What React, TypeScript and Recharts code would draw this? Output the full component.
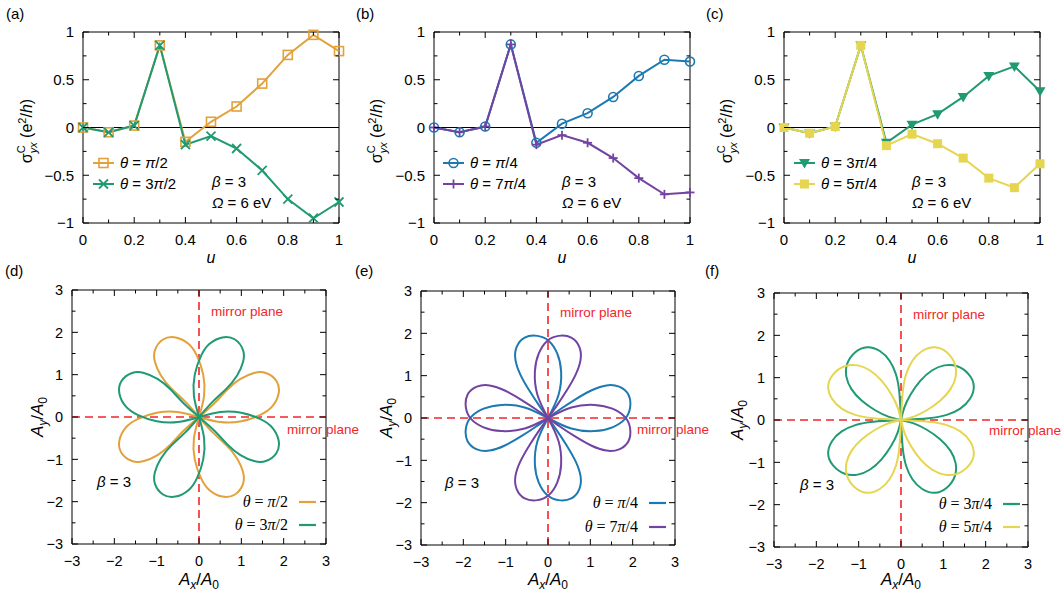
import React from 'react';
import { LineChart, Line, XAxis, YAxis, ReferenceLine, ReferenceArea, ScatterChart, Scatter } from 'recharts';

const SANS = '"Liberation Sans", Arial, Helvetica, sans-serif';
const SERIF = '"Liberation Serif", "Times New Roman", serif';

const ORANGE = '#e2a13a';
const GREEN = '#1f9a73';
const BLUE = '#1c79b2';
const PURPLE = '#7343a2';
const YELLOW = '#e6d54f';
const RED = '#f2262a';

// ---- (a)-(c): sigma_yx^C (e^2/h) against u ----
const uValues = [0, 0.1, 0.2, 0.3, 0.4, 0.5, 0.6, 0.7, 0.8, 0.9, 1];
const sigmaPi2 = [0, -0.05, 0.02, 0.86, -0.15, 0.06, 0.22, 0.46, 0.76, 0.97, 0.8];
const sigma3Pi2 = [0, -0.05, 0.02, 0.86, -0.18, -0.09, -0.22, -0.45, -0.75, -0.95, -0.78];
const sigmaPi4 = [0, -0.05, 0.01, 0.87, -0.16, 0.04, 0.15, 0.32, 0.54, 0.71, 0.69];
const sigma7Pi4 = [0, -0.05, 0.01, 0.87, -0.18, -0.08, -0.16, -0.32, -0.53, -0.7, -0.68];
const sigma3Pi4 = [0, -0.06, 0.01, 0.86, -0.16, 0.03, 0.14, 0.32, 0.54, 0.64, 0.38];
const sigma5Pi4 = [0, -0.06, 0.01, 0.86, -0.19, -0.07, -0.17, -0.32, -0.53, -0.63, -0.38];

const uTicks = [0, 0.1, 0.2, 0.3, 0.4, 0.5, 0.6, 0.7, 0.8, 0.9, 1];
const sigmaTicks = [-1, -0.75, -0.5, -0.25, 0, 0.25, 0.5, 0.75, 1];
const aTicks = [-3, -2.5, -2, -1.5, -1, -0.5, 0, 0.5, 1, 1.5, 2, 2.5, 3];

// ---- (d)-(f): A_y/A_0 against A_x/A_0, one outline per lobe ----
const lobesPi2 = [
  [[0, 0], [-0.33, 0.37], [-0.65, 0.67], [-0.9, 0.98], [-1.04, 1.3], [-1.04, 1.58], [-0.85, 1.83], [-0.55, 1.88], [-0.25, 1.73], [-0.05, 1.45], [0.1, 1.0], [0.12, 0.5], [0, 0]],
  [[0, 0], [-0.37, -0.33], [-0.67, -0.65], [-0.98, -0.9], [-1.3, -1.04], [-1.58, -1.04], [-1.83, -0.85], [-1.88, -0.55], [-1.73, -0.25], [-1.45, -0.05], [-1.0, 0.1], [-0.5, 0.12], [0, 0]],
  [[0, 0], [0.33, -0.37], [0.65, -0.67], [0.9, -0.98], [1.04, -1.3], [1.04, -1.58], [0.85, -1.83], [0.55, -1.88], [0.25, -1.73], [0.05, -1.45], [-0.1, -1.0], [-0.12, -0.5], [0, 0]],
  [[0, 0], [0.37, 0.33], [0.67, 0.65], [0.98, 0.9], [1.3, 1.04], [1.58, 1.04], [1.83, 0.85], [1.88, 0.55], [1.73, 0.25], [1.45, 0.05], [1.0, -0.1], [0.5, -0.12], [0, 0]],
];
const lobes3Pi2 = [
  [[0, 0], [0.33, 0.37], [0.65, 0.67], [0.9, 0.98], [1.04, 1.3], [1.04, 1.58], [0.85, 1.83], [0.55, 1.88], [0.25, 1.73], [0.05, 1.45], [-0.1, 1.0], [-0.12, 0.5], [0, 0]],
  [[0, 0], [0.37, -0.33], [0.67, -0.65], [0.98, -0.9], [1.3, -1.04], [1.58, -1.04], [1.83, -0.85], [1.88, -0.55], [1.73, -0.25], [1.45, -0.05], [1.0, 0.1], [0.5, 0.12], [0, 0]],
  [[0, 0], [-0.33, -0.37], [-0.65, -0.67], [-0.9, -0.98], [-1.04, -1.3], [-1.04, -1.58], [-0.85, -1.83], [-0.55, -1.88], [-0.25, -1.73], [-0.05, -1.45], [0.1, -1.0], [0.12, -0.5], [0, 0]],
  [[0, 0], [-0.37, 0.33], [-0.67, 0.65], [-0.98, 0.9], [-1.3, 1.04], [-1.58, 1.04], [-1.83, 0.85], [-1.88, 0.55], [-1.73, 0.25], [-1.45, 0.05], [-1.0, -0.1], [-0.5, -0.12], [0, 0]],
];
const lobesPi4 = [
  [[0, 0], [-0.2, 0.28], [-0.43, 0.63], [-0.65, 1.02], [-0.77, 1.38], [-0.74, 1.68], [-0.55, 1.9], [-0.25, 1.94], [0.02, 1.82], [0.22, 1.52], [0.31, 1.1], [0.25, 0.55], [0, 0]],
  [[0, 0], [-0.28, -0.2], [-0.63, -0.43], [-1.02, -0.65], [-1.38, -0.77], [-1.68, -0.74], [-1.9, -0.55], [-1.94, -0.25], [-1.82, 0.02], [-1.52, 0.22], [-1.1, 0.31], [-0.55, 0.25], [0, 0]],
  [[0, 0], [0.2, -0.28], [0.43, -0.63], [0.65, -1.02], [0.77, -1.38], [0.74, -1.68], [0.55, -1.9], [0.25, -1.94], [-0.02, -1.82], [-0.22, -1.52], [-0.31, -1.1], [-0.25, -0.55], [0, 0]],
  [[0, 0], [0.28, 0.2], [0.63, 0.43], [1.02, 0.65], [1.38, 0.77], [1.68, 0.74], [1.9, 0.55], [1.94, 0.25], [1.82, -0.02], [1.52, -0.22], [1.1, -0.31], [0.55, -0.25], [0, 0]],
];
const lobes7Pi4 = [
  [[0, 0], [0.2, 0.28], [0.43, 0.63], [0.65, 1.02], [0.77, 1.38], [0.74, 1.68], [0.55, 1.9], [0.25, 1.94], [-0.02, 1.82], [-0.22, 1.52], [-0.31, 1.1], [-0.25, 0.55], [0, 0]],
  [[0, 0], [0.28, -0.2], [0.63, -0.43], [1.02, -0.65], [1.38, -0.77], [1.68, -0.74], [1.9, -0.55], [1.94, -0.25], [1.82, 0.02], [1.52, 0.22], [1.1, 0.31], [0.55, 0.25], [0, 0]],
  [[0, 0], [-0.2, -0.28], [-0.43, -0.63], [-0.65, -1.02], [-0.77, -1.38], [-0.74, -1.68], [-0.55, -1.9], [-0.25, -1.94], [0.02, -1.82], [0.22, -1.52], [0.31, -1.1], [0.25, -0.55], [0, 0]],
  [[0, 0], [-0.28, 0.2], [-0.63, 0.43], [-1.02, 0.65], [-1.38, 0.77], [-1.68, 0.74], [-1.9, 0.55], [-1.94, 0.25], [-1.82, -0.02], [-1.52, -0.22], [-1.1, -0.31], [-0.55, -0.25], [0, 0]],
];
const lobes3Pi4 = [
  [[0, 0], [-0.3, 0.08], [-0.61, 0.23], [-0.93, 0.46], [-1.17, 0.73], [-1.29, 1.02], [-1.27, 1.33], [-1.08, 1.6], [-0.8, 1.72], [-0.5, 1.63], [-0.27, 1.4], [-0.12, 1.08], [-0.04, 0.65], [0, 0]],
  [[0, 0], [-0.08, -0.3], [-0.23, -0.61], [-0.46, -0.93], [-0.73, -1.17], [-1.02, -1.29], [-1.33, -1.27], [-1.6, -1.08], [-1.72, -0.8], [-1.63, -0.5], [-1.4, -0.27], [-1.08, -0.12], [-0.65, -0.04], [0, 0]],
  [[0, 0], [0.3, -0.08], [0.61, -0.23], [0.93, -0.46], [1.17, -0.73], [1.29, -1.02], [1.27, -1.33], [1.08, -1.6], [0.8, -1.72], [0.5, -1.63], [0.27, -1.4], [0.12, -1.08], [0.04, -0.65], [0, 0]],
  [[0, 0], [0.08, 0.3], [0.23, 0.61], [0.46, 0.93], [0.73, 1.17], [1.02, 1.29], [1.33, 1.27], [1.6, 1.08], [1.72, 0.8], [1.63, 0.5], [1.4, 0.27], [1.08, 0.12], [0.65, 0.04], [0, 0]],
];
const lobes5Pi4 = [
  [[0, 0], [0.3, 0.08], [0.61, 0.23], [0.93, 0.46], [1.17, 0.73], [1.29, 1.02], [1.27, 1.33], [1.08, 1.6], [0.8, 1.72], [0.5, 1.63], [0.27, 1.4], [0.12, 1.08], [0.04, 0.65], [0, 0]],
  [[0, 0], [0.08, -0.3], [0.23, -0.61], [0.46, -0.93], [0.73, -1.17], [1.02, -1.29], [1.33, -1.27], [1.6, -1.08], [1.72, -0.8], [1.63, -0.5], [1.4, -0.27], [1.08, -0.12], [0.65, -0.04], [0, 0]],
  [[0, 0], [-0.3, -0.08], [-0.61, -0.23], [-0.93, -0.46], [-1.17, -0.73], [-1.29, -1.02], [-1.27, -1.33], [-1.08, -1.6], [-0.8, -1.72], [-0.5, -1.63], [-0.27, -1.4], [-0.12, -1.08], [-0.04, -0.65], [0, 0]],
  [[0, 0], [-0.08, 0.3], [-0.23, 0.61], [-0.46, 0.93], [-0.73, 1.17], [-1.02, 1.29], [-1.33, 1.27], [-1.6, 1.08], [-1.72, 0.8], [-1.63, 0.5], [-1.4, 0.27], [-1.08, 0.12], [-0.65, 0.04], [0, 0]],
];

type MarkerKind = 'openSquare' | 'cross' | 'openCircle' | 'plus' | 'downTriangle' | 'filledSquare';

const fmt = (v: number) => (v < 0 ? '\u2212' + String(-v) : String(v));
const isMajorU = (v: number) => Math.round(v * 10) % 2 === 0;
const isMajorSigma = (v: number) => Math.round(v * 4) % 2 === 0;
const isInt = (v: number) => Number.isInteger(v);

function Marker({ kind, cx, cy, color }: { kind: MarkerKind; cx: number; cy: number; color: string }) {
  const r = 4.5;
  switch (kind) {
    case 'openSquare':
      return <rect x={cx - r} y={cy - r} width={2 * r} height={2 * r} fill="none" stroke={color} strokeWidth={1.6} />;
    case 'cross':
      return (
        <g stroke={color} strokeWidth={1.8}>
          <line x1={cx - r} y1={cy - r} x2={cx + r} y2={cy + r} />
          <line x1={cx - r} y1={cy + r} x2={cx + r} y2={cy - r} />
        </g>
      );
    case 'openCircle':
      return <circle cx={cx} cy={cy} r={r} fill="none" stroke={color} strokeWidth={1.6} />;
    case 'plus':
      return (
        <g stroke={color} strokeWidth={1.8}>
          <line x1={cx - r} y1={cy} x2={cx + r} y2={cy} />
          <line x1={cx} y1={cy - r} x2={cx} y2={cy + r} />
        </g>
      );
    case 'downTriangle':
      return <polygon points={`${cx - 5.5},${cy - 4} ${cx + 5.5},${cy - 4} ${cx},${cy + 5.5}`} fill={color} />;
    default:
      return <rect x={cx - r} y={cy - r} width={2 * r} height={2 * r} fill={color} />;
  }
}

// inward ticks on both sides, labels only on the major ones
function xTick(plotH: number, major: (v: number) => boolean, gap: number, fs: number) {
  return (p: any) => {
    const v = Number(p.payload.value);
    const m = major(v);
    const len = m ? 6 : 3.5;
    return (
      <g>
        <line x1={p.x} x2={p.x} y1={p.y} y2={p.y - len} stroke="#000" />
        <line x1={p.x} x2={p.x} y1={p.y - plotH} y2={p.y - plotH + len} stroke="#000" />
        {m ? (
          <text x={p.x} y={p.y + gap} textAnchor="middle" fontSize={fs} fontFamily={SANS} fill="#000">
            {fmt(v)}
          </text>
        ) : null}
      </g>
    );
  };
}

function yTick(plotW: number, major: (v: number) => boolean, gap: number, fs: number) {
  return (p: any) => {
    const v = Number(p.payload.value);
    const m = major(v);
    const len = m ? 6 : 3.5;
    return (
      <g>
        <line x1={p.x} x2={p.x + len} y1={p.y} y2={p.y} stroke="#000" />
        <line x1={p.x + plotW} x2={p.x + plotW - len} y1={p.y} y2={p.y} stroke="#000" />
        {m ? (
          <text x={p.x - gap} y={p.y} dy={fs * 0.36} textAnchor="end" fontSize={fs} fontFamily={SANS} fill="#000">
            {fmt(v)}
          </text>
        ) : null}
      </g>
    );
  };
}

type SigmaSeries = { key: string; values: number[]; color: string; marker: MarkerKind };

function SigmaPanel({ left, plotLeft, series }: { left: number; plotLeft: number; series: SigmaSeries[] }) {
  const rows = uValues.map((u, i) => {
    const row: Record<string, number> = { u };
    series.forEach((s) => (row[s.key] = s.values[i]));
    return row;
  });
  return (
    <div style={{ position: 'absolute', left, top: 0 }}>
      <LineChart width={360} height={270} data={rows} margin={{ top: 32, right: 360 - plotLeft - 256, bottom: 17, left: plotLeft - 40 }}>
        <XAxis type="number" dataKey="u" domain={[0, 1]} ticks={uTicks} interval={0} tickSize={0} tickMargin={0} axisLine={false} height={30} tick={xTick(191, isMajorU, 22, 15)} />
        <YAxis type="number" domain={[-1, 1]} ticks={sigmaTicks} interval={0} tickSize={0} tickMargin={0} axisLine={false} width={40} tick={yTick(256, isMajorSigma, 9, 15)} />
        <ReferenceArea x1={0} x2={1} y1={-1} y2={1} fill="none" stroke="#000" strokeWidth={1} />
        <ReferenceLine y={0} stroke="#000" strokeWidth={1} />
        {series.map((s) => (
          <Line
            key={s.key}
            dataKey={s.key}
            type="linear"
            stroke={s.color}
            strokeWidth={2}
            activeDot={false}
            isAnimationActive={false}
            dot={(p: any) => <Marker key={`${s.key}-${p.index}`} kind={s.marker} cx={p.cx} cy={p.cy} color={s.color} />}
          />
        ))}
      </LineChart>
    </div>
  );
}

type LobeCurve = { color: string; lobes: number[][][] };

function LobePanel({ left, plotLeft, plotTop, curves }: { left: number; plotLeft: number; plotTop: number; curves: LobeCurve[] }) {
  return (
    <div style={{ position: 'absolute', left, top: 270 }}>
      <ScatterChart width={350} height={324} margin={{ top: plotTop, right: 350 - plotLeft - 254, bottom: 324 - plotTop - 254 - 30, left: plotLeft - 40 }}>
        <XAxis type="number" dataKey="x" domain={[-3, 3]} ticks={aTicks} interval={0} tickSize={0} tickMargin={0} axisLine={false} height={30} tick={xTick(254, isInt, 22, 14.5)} />
        <YAxis type="number" dataKey="y" domain={[-3, 3]} ticks={aTicks} interval={0} tickSize={0} tickMargin={0} axisLine={false} width={40} tick={yTick(254, isInt, 9, 14.5)} />
        <ReferenceArea x1={-3} x2={3} y1={-3} y2={3} fill="none" stroke="#000" strokeWidth={1} />
        {curves.flatMap((c, ci) =>
          c.lobes.map((lobe, li) => (
            <Scatter
              key={`${ci}-${li}`}
              data={lobe.map(([x, y]) => ({ x, y }))}
              fill={c.color}
              line={{ stroke: c.color, strokeWidth: 2 }}
              lineJointType="natural"
              shape={() => <g />}
              isAnimationActive={false}
            />
          ))
        )}
        <ReferenceLine x={0} stroke={RED} strokeWidth={1.6} strokeDasharray="8 5" />
        <ReferenceLine y={0} stroke={RED} strokeWidth={1.6} strokeDasharray="8 5" />
      </ScatterChart>
    </div>
  );
}

const Theta = ({ coef, den }: { coef: string; den: string }) => (
  <>
    <tspan fontStyle="italic">θ</tspan>
    {` = ${coef}`}
    <tspan fontStyle="italic">π</tspan>
    {`/${den}`}
  </>
);

function SigmaLabel({ x, y }: { x: number; y: number }) {
  return (
    <text transform={`translate(${x},${y}) rotate(-90)`} textAnchor="middle" fontSize={16} fontFamily={SANS} fill="#000">
      <tspan>σ</tspan>
      <tspan fontSize={11} dy={-7}>C</tspan>
      <tspan fontSize={11} fontStyle="italic" dx={-8} dy={12}>yx</tspan>
      <tspan dy={-5}> (e</tspan>
      <tspan fontSize={11} dy={-6}>2</tspan>
      <tspan dy={6}>/</tspan>
      <tspan fontStyle="italic">h</tspan>
      <tspan>)</tspan>
    </text>
  );
}

function TopLegend({ x, rows }: { x: number; rows: { coef: string; den: string; color: string; marker: MarkerKind }[] }) {
  return (
    <g>
      {rows.map((r, i) => {
        const y = 163 + i * 21;
        return (
          <g key={i}>
            <line x1={x} x2={x + 21} y1={y} y2={y} stroke={r.color} strokeWidth={2} />
            <Marker kind={r.marker} cx={x + 10.5} cy={y} color={r.color} />
            <text x={x + 27} y={y + 5} fontSize={15} fontFamily={SANS}>
              <Theta coef={r.coef} den={r.den} />
            </text>
          </g>
        );
      })}
    </g>
  );
}

function BottomLegend({ textEnd, y0, y1, rows }: { textEnd: number; y0: number; y1: number; rows: { coef: string; den: string; color: string }[] }) {
  return (
    <g>
      {rows.map((r, i) => {
        const y = i === 0 ? y0 : y1;
        return (
          <g key={i}>
            <text x={textEnd} y={y + 5} textAnchor="end" fontSize={16} fontFamily={SERIF}>
              <Theta coef={r.coef} den={r.den} />
            </text>
            <line x1={textEnd + 11} x2={textEnd + 28} y1={y} y2={y} stroke={r.color} strokeWidth={2.2} />
          </g>
        );
      })}
    </g>
  );
}

function Overlay() {
  const ax = (cx: number) => (
    <text x={cx} y={585} textAnchor="middle" fontSize={17} fontFamily={SANS}>
      <tspan fontStyle="italic">A</tspan>
      <tspan fontSize={12} fontStyle="italic" dy={4}>x</tspan>
      <tspan dy={-4}>/</tspan>
      <tspan fontStyle="italic">A</tspan>
      <tspan fontSize={12} dy={4}>0</tspan>
    </text>
  );
  const ay = (x: number, y: number) => (
    <text transform={`translate(${x},${y}) rotate(-90)`} textAnchor="middle" fontSize={17} fontFamily={SANS}>
      <tspan fontStyle="italic">A</tspan>
      <tspan fontSize={12} fontStyle="italic" dy={4}>y</tspan>
      <tspan dy={-4}>/</tspan>
      <tspan fontStyle="italic">A</tspan>
      <tspan fontSize={12} dy={4}>0</tspan>
    </text>
  );
  const mirror = (x: number, y: number) => (
    <text x={x} y={y} fontSize={13.5} fontFamily={SANS} fill={RED}>
      mirror plane
    </text>
  );
  const beta = (x: number, y: number) => (
    <text x={x} y={y} fontSize={15} fontFamily={SANS}>
      <tspan fontStyle="italic">β</tspan> = 3
    </text>
  );
  return (
    <svg width={1063} height={594} style={{ position: 'absolute', left: 0, top: 0, pointerEvents: 'none' }}>
      <g fontSize={15} fontFamily={SANS}>
        <text x={6} y={19}>(a)</text>
        <text x={356} y={19}>(b)</text>
        <text x={706} y={19}>(c)</text>
        <text x={5} y={276}>(d)</text>
        <text x={355} y={276}>(e)</text>
        <text x={705} y={276}>(f)</text>
      </g>

      <SigmaLabel x={32} y={131} />
      <SigmaLabel x={382} y={131} />
      <SigmaLabel x={732} y={131} />
      {[211, 562, 912].map((x) => (
        <text key={x} x={x} y={263} textAnchor="middle" fontSize={16} fontStyle="italic" fontFamily={SANS}>
          u
        </text>
      ))}
      {[212, 562, 912].map((x) => (
        <g key={x}>
          {beta(x, 187)}
          <text x={x} y={208} fontSize={15} fontFamily={SANS}>
            <tspan fontStyle="italic">Ω</tspan> = 6 eV
          </text>
        </g>
      ))}
      <TopLegend x={93} rows={[{ coef: '', den: '2', color: ORANGE, marker: 'openSquare' }, { coef: '3', den: '2', color: GREEN, marker: 'cross' }]} />
      <TopLegend x={443} rows={[{ coef: '', den: '4', color: BLUE, marker: 'openCircle' }, { coef: '7', den: '4', color: PURPLE, marker: 'plus' }]} />
      <TopLegend x={794} rows={[{ coef: '3', den: '4', color: GREEN, marker: 'downTriangle' }, { coef: '5', den: '4', color: YELLOW, marker: 'filledSquare' }]} />

      {ay(43, 417)}
      {ay(392, 418)}
      {ay(743, 420)}
      {ax(199)}
      {ax(548)}
      {ax(901)}
      {mirror(211, 316)}
      {mirror(287, 434)}
      {mirror(560, 317)}
      {mirror(637, 434)}
      {mirror(913, 319)}
      {mirror(989, 435)}
      {beta(97, 487)}
      {beta(445, 488)}
      {beta(800, 490)}
      <BottomLegend textEnd={288} y0={502} y1={525} rows={[{ coef: '', den: '2', color: ORANGE }, { coef: '3', den: '2', color: GREEN }]} />
      <BottomLegend textEnd={638} y0={503} y1={527} rows={[{ coef: '', den: '4', color: BLUE }, { coef: '7', den: '4', color: PURPLE }]} />
      <BottomLegend textEnd={992} y0={504} y1={527} rows={[{ coef: '3', den: '4', color: GREEN }, { coef: '5', den: '4', color: YELLOW }]} />
    </svg>
  );
}

export default function App() {
  return (
    <div style={{ position: 'absolute', left: 0, top: 0, width: 1063, height: 594, background: '#fff', fontFamily: SANS }}>
      <SigmaPanel
        left={0}
        plotLeft={83}
        series={[
          { key: 'pi2', values: sigmaPi2, color: ORANGE, marker: 'openSquare' },
          { key: 'threePi2', values: sigma3Pi2, color: GREEN, marker: 'cross' },
        ]}
      />
      <SigmaPanel
        left={350}
        plotLeft={84}
        series={[
          { key: 'pi4', values: sigmaPi4, color: BLUE, marker: 'openCircle' },
          { key: 'sevenPi4', values: sigma7Pi4, color: PURPLE, marker: 'plus' },
        ]}
      />
      <SigmaPanel
        left={700}
        plotLeft={84}
        series={[
          { key: 'threePi4', values: sigma3Pi4, color: GREEN, marker: 'downTriangle' },
          { key: 'fivePi4', values: sigma5Pi4, color: YELLOW, marker: 'filledSquare' },
        ]}
      />
      <LobePanel left={0} plotLeft={72} plotTop={20} curves={[{ color: ORANGE, lobes: lobesPi2 }, { color: GREEN, lobes: lobes3Pi2 }]} />
      <LobePanel left={350} plotLeft={71} plotTop={21} curves={[{ color: BLUE, lobes: lobesPi4 }, { color: PURPLE, lobes: lobes7Pi4 }]} />
      <LobePanel left={700} plotLeft={74} plotTop={23} curves={[{ color: GREEN, lobes: lobes3Pi4 }, { color: YELLOW, lobes: lobes5Pi4 }]} />
      <Overlay />
    </div>
  );
}
